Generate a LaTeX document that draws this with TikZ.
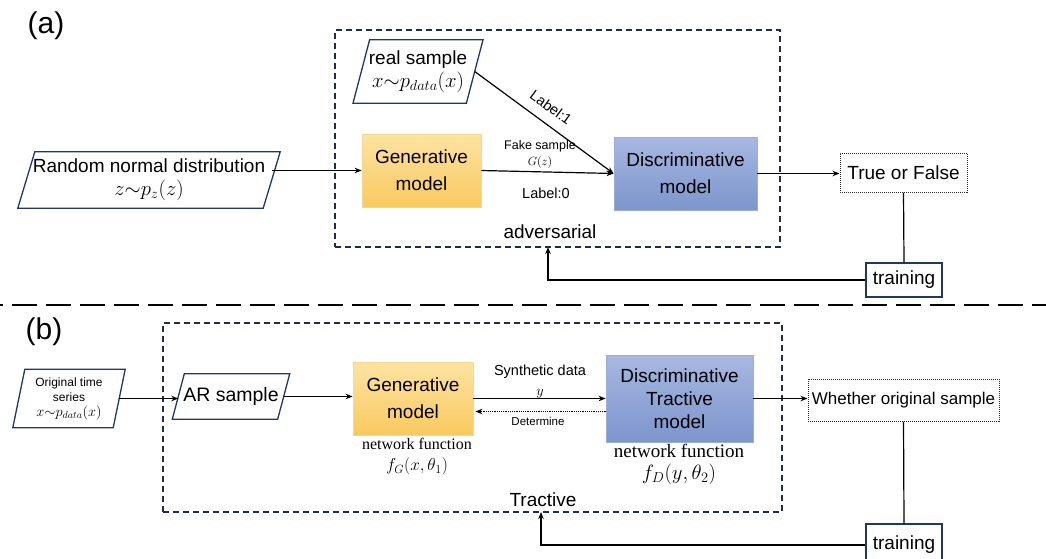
\documentclass[tikz,border=0pt]{standalone}
\usepackage{fontspec}
\setmainfont{Liberation Sans}
\newfontfamily\seriffont{Liberation Serif}
\usetikzlibrary{arrows.meta}
\definecolor{navy}{HTML}{1F3864}
\definecolor{dashnavy}{HTML}{1E2D4A}
\definecolor{gtop}{HTML}{FDE3A2}
\definecolor{gbot}{HTML}{F8C95F}
\definecolor{gline}{HTML}{F6D690}
\definecolor{dtop}{HTML}{A7B8E1}
\definecolor{dbot}{HTML}{7D95CC}
\definecolor{dline}{HTML}{9AAEDC}
\tikzset{
  plain/.style={inner sep=0pt, align=center},
  big/.style={font=\fontsize{19}{23}\selectfont},
  genbox/.style={plain, big, top color=gtop, bottom color=gbot, draw=gline, line width=0.8pt},
  disbox/.style={plain, big, top color=dtop, bottom color=dbot, draw=dline, line width=0.8pt},
  dashbox/.style={plain, draw=dashnavy, line width=2.2pt, dash pattern=on 6pt off 4pt},
  dotbox/.style={plain, big, draw=black!85, line width=1pt, densely dotted},
  trbox/.style={plain, big, draw=navy, line width=1.3pt},
  pl/.style={draw=navy, line width=1.3pt},
  arr/.style={-{Stealth[length=7pt,width=5.5pt]}, line width=1.2pt},
  ln/.style={line width=1.2pt},
  sep/.style={line width=2.8pt, dash pattern=on 25pt off 9pt, dash phase=-12pt},
}
\begin{document}
\begin{tikzpicture}[x=1pt,y=-1pt]
\useasboundingbox (0,0) rectangle (1046,558);
% ---------------- (a)
\node[plain, font=\fontsize{30}{36}\selectfont] (la) at (46,26) {(a)};
\node[dashbox, minimum width=445, minimum height=217] (boxa) at (557.5,138.5) {};
\node[plain, big, minimum width=113, minimum height=63] (real) at (418,71.5)
  {real sample\\{\fontsize{22}{24}\selectfont$x{\sim}p_{data}(x)$}};
\draw[pl] ([xshift=8.3pt]real.north west) -- ([xshift=8.3pt]real.north east)
  -- ([xshift=-8.3pt]real.south east) -- ([xshift=-8.3pt]real.south west) -- cycle;
\node[plain, big, minimum width=245, minimum height=56] (rnd) at (149,180)
  {Random normal distribution\\{\fontsize{21}{23}\selectfont$z{\sim}p_z(z)$}};
\draw[pl] ([xshift=8.5pt]rnd.north west) -- ([xshift=8.5pt]rnd.north east)
  -- ([xshift=-8.5pt]rnd.south east) -- ([xshift=-8.5pt]rnd.south west) -- cycle;
\node[genbox, minimum width=119, minimum height=73, font=\fontsize{19}{27}\selectfont] (gen) at (421.5,170.5) {Generative\\model};
\node[disbox, minimum width=143, minimum height=73, font=\fontsize{19}{27}\selectfont] (disc) at (685.5,173.5) {Discriminative\\model};
\node[dotbox, minimum width=127, minimum height=39] (tf) at (903.5,172.5) {True or False};
\node[trbox, minimum width=76, minimum height=34] (traina) at (904,280) {training};
\draw[arr] (rnd.east |- gen.west) -- (gen.west);
\draw[arr] (gen.east) -- (disc.west);
\draw[arr] (real.east) -- (disc.west)
  node[pos=0.48, sloped, above=7pt, font=\fontsize{14.5}{17}\selectfont] {Label:1};
\node[plain, font=\fontsize{12.5}{16}\selectfont] (fake) at (540,154) {Fake sample\\$G(z)$};
\node[plain, font=\fontsize{14.5}{17}\selectfont] (l0) at (546,193) {Label:0};
\node[plain, big] (adv) at (550,232) {adversarial};
\draw[arr] (disc.east) -- (disc.east -| tf.west);
\draw[ln] (tf.south) -- (traina.north);
\coordinate (fa) at (548,247);
\draw[arr] (traina.west) -| (fa);
% ---------------- separator
\coordinate (s1) at (0,305);
\coordinate (s2) at (1046,305);
\draw[sep] (s1) -- (s2);
% ---------------- (b)
\node[plain, font=\fontsize{30}{36}\selectfont] (lb) at (44,332) {(b)};
\node[dashbox, minimum width=619, minimum height=189] (boxb) at (472.5,417.5) {};
\node[plain, font=\fontsize{12}{15}\selectfont, minimum width=100, minimum height=58] (orig) at (69,398.5)
  {Original time\\series\\{\fontsize{14}{15}\selectfont$x{\sim}p_{data}(x)$}};
\draw[pl] ([xshift=6pt]orig.north west) -- ([xshift=6pt]orig.north east)
  -- ([xshift=-6pt]orig.south east) -- ([xshift=-6pt]orig.south west) -- cycle;
\node[plain, font=\fontsize{19.5}{23}\selectfont, minimum width=105, minimum height=45] (ar) at (231,396.5) {AR sample};
\draw[pl] ([xshift=6pt]ar.north west) -- ([xshift=6pt]ar.north east)
  -- ([xshift=-6pt]ar.south east) -- ([xshift=-6pt]ar.south west) -- cycle;
\node[genbox, minimum width=120, minimum height=73, font=\fontsize{19}{27}\selectfont] (genb) at (413,398.5) {Generative\\model};
\node[disbox, minimum width=147, minimum height=87] (discb) at (679.5,398.5) {Discriminative\\Tractive\\model};
\node[dotbox, font=\fontsize{17}{20}\selectfont, minimum width=191, minimum height=42] (wh) at (903.5,400) {Whether original sample};
\node[trbox, minimum width=76, minimum height=42] (trainb) at (904,545) {training};
\draw[arr] (orig.east) -- (orig.east -| ar.west);
\draw[arr] (ar.east) -- (ar.east -| genb.west);
\draw[arr] (genb.east) -- (genb.east -| discb.west);
\draw[arr, densely dotted, shorten >=2pt] ([yshift=-13pt]discb.west) -- ([yshift=-13pt]genb.east);
\node[plain, font=\fontsize{14.5}{20}\selectfont] (syn) at (540,382) {Synthetic data\\$y$};
\node[plain, font=\fontsize{11.5}{14}\selectfont] (det) at (538,421) {Determine};
\node[plain, font=\fontsize{16}{21}\selectfont] (nfg) at (417,457) {\seriffont network function\\{\fontsize{17}{19}\selectfont$f_G(x,\theta_1)$}};
\node[plain, font=\fontsize{19}{22}\selectfont] (nfd) at (679,464) {\seriffont network function\\{\fontsize{20}{22}\selectfont$f_D(y,\theta_2)$}};
\node[plain, big] (tra) at (543,500) {Tractive};
\draw[arr] (discb.east) -- (discb.east -| wh.west);
\draw[ln] (wh.south) -- (trainb.north);
\coordinate (fb) at (541,512);
\draw[arr] (trainb.west) -| (fb);
\end{tikzpicture}
\end{document}
